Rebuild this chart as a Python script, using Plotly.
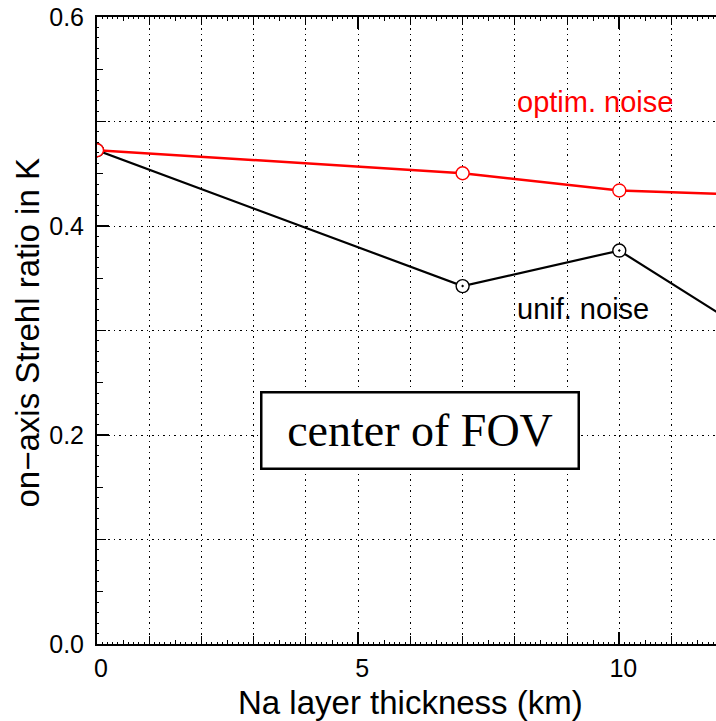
import plotly.graph_objects as go

# Data
thickness_km = [0, 7, 10, 12]
strehl_optim = [0.4725, 0.4505, 0.434, 0.4305]
strehl_unif = [0.4725, 0.3425, 0.3765, 0.3135]

x_tick_vals = [0, 5, 10]
y_tick_vals = [0.0, 0.2, 0.4, 0.6]

W, H = 716, 721
ML, MR, MT, MB = 97, 0, 17, 77
px_per_km = 52.23
x_max = (W - ML - MR) / px_per_km

fig = go.Figure()

fig.add_trace(go.Scatter(
    x=thickness_km, y=strehl_unif, mode="lines+markers",
    line=dict(color="black", width=2.2),
    marker=dict(symbol="circle-dot", size=13, color="white",
                line=dict(color="black", width=1.4)),
    showlegend=False, cliponaxis=True,
))
fig.add_trace(go.Scatter(
    x=thickness_km, y=strehl_optim, mode="lines+markers",
    line=dict(color="#ff0000", width=2.5),
    marker=dict(symbol="circle", size=13, color="white",
                line=dict(color="#ff0000", width=1.4)),
    showlegend=False, cliponaxis=True,
))
# helper trace for the overlay (fine tick) axes
fig.add_trace(go.Scatter(x=[None], y=[None], xaxis="x2", yaxis="y2",
                         showlegend=False, hoverinfo="skip"))

font_sans = "Liberation Sans, Arial, Helvetica, sans-serif"
grid_dash = "1.5px,4px"

fig.update_layout(
    width=W, height=H,
    margin=dict(l=ML, r=MR, t=MT, b=MB, pad=0),
    paper_bgcolor="white", plot_bgcolor="white",
    font=dict(family=font_sans, color="black", size=24),
    xaxis=dict(
        range=[0, x_max], tickmode="array", tickvals=x_tick_vals,
        ticktext=[str(v) for v in x_tick_vals],
        ticks="inside", ticklen=12, tickwidth=1.5, tickcolor="black",
        showline=True, linewidth=2, linecolor="black", mirror="allticks",
        showgrid=False, zeroline=False,
        tickfont=dict(size=25), ticklabelstandoff=1, ticklabelshift=4,
        minor=dict(dtick=1, tick0=0, ticks="inside", ticklen=8, tickwidth=1.2,
                   tickcolor="black", showgrid=True, gridcolor="black",
                   gridwidth=1, griddash=grid_dash),
    ),
    yaxis=dict(
        range=[0, 0.6], tickmode="array", tickvals=y_tick_vals,
        ticktext=[f"{v:.1f}" for v in y_tick_vals],
        ticks="inside", ticklen=12, tickwidth=1.5, tickcolor="black",
        showline=True, linewidth=2, linecolor="black", mirror=False,
        showgrid=False, zeroline=False,
        tickfont=dict(size=25), ticklabelstandoff=6,
        minor=dict(dtick=0.1, tick0=0, ticks="inside", ticklen=9, tickwidth=1.2,
                   tickcolor="black", showgrid=True, gridcolor="black",
                   gridwidth=1, griddash=grid_dash),
    ),
    xaxis2=dict(
        range=[0, x_max], overlaying="x", anchor="y", side="bottom",
        showticklabels=False, ticks="inside", dtick=0.5, tick0=0, ticklen=4,
        tickwidth=1, tickcolor="black", showgrid=False, zeroline=False,
        showline=False, mirror="allticks",
        minor=dict(dtick=0.1, tick0=0, ticks="inside", ticklen=2,
                   tickwidth=1, tickcolor="black", showgrid=False),
    ),
    yaxis2=dict(
        range=[0, 0.6], overlaying="y", anchor="x", side="left",
        showticklabels=False, ticks="inside", dtick=0.05, tick0=0, ticklen=6,
        tickwidth=1, tickcolor="black", showgrid=False, zeroline=False,
        showline=False,
        minor=dict(dtick=0.01, tick0=0, ticks="inside", ticklen=2,
                   tickwidth=1, tickcolor="black", showgrid=False),
    ),
)

annotations = [
    dict(text="optim. noise", x=8, y=0.519, xref="x", yref="y",
         xanchor="left", yanchor="middle", showarrow=False,
         font=dict(family=font_sans, size=29, color="#ff0000")),
    dict(text="unif. noise", x=8, y=0.321, xref="x", yref="y",
         xanchor="left", yanchor="middle", showarrow=False,
         font=dict(family=font_sans, size=29, color="black")),
    dict(text="center of FOV", x=6.18, y=0.2046, xref="x", yref="y",
         xanchor="center", yanchor="middle", showarrow=False,
         width=313, height=72, align="center", valign="middle",
         bgcolor="white", bordercolor="black", borderwidth=2.5, borderpad=1,
         font=dict(family="Liberation Serif, Times New Roman, serif", size=46,
                   color="black")),
    dict(text="Na layer thickness (km)", x=(410 - ML) / (W - ML - MR),
         y=(H - MB - 702) / (H - MT - MB), xref="paper", yref="paper",
         xanchor="center", yanchor="middle", showarrow=False,
         font=dict(family=font_sans, size=33, color="black")),
    dict(text="on\u2212axis Strehl ratio in K", x=(27 - ML) / (W - ML - MR),
         y=(H - MB - 333.5) / (H - MT - MB), xref="paper", yref="paper",
         xanchor="center", yanchor="middle", showarrow=False, textangle=-90,
         font=dict(family=font_sans, size=33, color="black")),
]
fig.update_layout(annotations=annotations)

fig.write_html("out.html")
